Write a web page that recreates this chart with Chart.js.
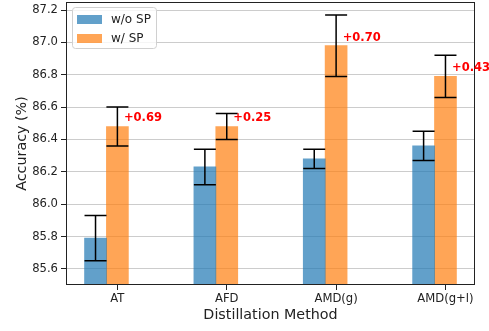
<!DOCTYPE html>
<html>
<head>
<meta charset="utf-8">
<script src="https://cdn.jsdelivr.net/npm/chart.js@4"></script>
<style>
  html, body { margin: 0; padding: 0; background: #fff; }
</style>
</head>
<body>
<canvas id="chart" width="489" height="331"></canvas>
<script>
// data
const methods = ['AT', 'AFD', 'AMD(g)', 'AMD(g+l)'];
const withoutSP = [85.79, 86.23, 86.28, 86.36];
const withoutSPErr = [0.14, 0.11, 0.06, 0.09];
const withSP = [86.48, 86.48, 86.98, 86.79];
const withSPErr = [0.12, 0.08, 0.19, 0.13];
const gains = ['+0.69', '+0.25', '+0.70', '+0.43'];
const yTicks = [85.6, 85.8, 86.0, 86.2, 86.4, 86.6, 86.8, 87.0, 87.2];

const FONT = 'DejaVu Sans';
const barW = 0.2; // bar width in x units

// error bars
const errorBars = {
    id: 'errorBars',
    afterDatasetsDraw(chart) {
        const ctx = chart.ctx;
        const y = chart.scales.y;
        ctx.save();
        ctx.strokeStyle = '#000';
        ctx.lineWidth = 1.5;
        chart.data.datasets.forEach((ds, di) => {
            const meta = chart.getDatasetMeta(di);
            meta.data.forEach((bar, i) => {
                const v = ds.data[i].y;
                const e = ds.errors[i];
                const top = y.getPixelForValue(v + e);
                const bot = y.getPixelForValue(v - e);
                const cap = 11;
                ctx.beginPath();
                ctx.moveTo(bar.x, top); ctx.lineTo(bar.x, bot);
                ctx.moveTo(bar.x - cap, top); ctx.lineTo(bar.x + cap, top);
                ctx.moveTo(bar.x - cap, bot); ctx.lineTo(bar.x + cap, bot);
                ctx.stroke();
            });
        });
        ctx.restore();
    }
};

// red gain labels, frame, legend
const extras = {
    id: 'extras',
    afterDraw(chart) {
        const ctx = chart.ctx;
        const {left, top, right, bottom} = chart.chartArea;
        const x = chart.scales.x, y = chart.scales.y;
        ctx.save();

        // frame
        ctx.strokeStyle = '#222';
        ctx.lineWidth = 1;
        ctx.strokeRect(Math.round(left) + 0.5, Math.round(top) + 0.5,
            Math.round(right - left) - 1, Math.round(bottom - top) - 1);

        // gains
        ctx.fillStyle = '#ff0000';
        ctx.font = 'bold 11.5px "' + FONT + '"';
        ctx.textAlign = 'left';
        ctx.textBaseline = 'middle';
        gains.forEach((g, i) => {
            ctx.fillText(g, x.getPixelForValue(i + 0.06), y.getPixelForValue(withSP[i] + 0.05));
        });

        // legend
        const lx = left + 6, ly = top + 5;
        ctx.fillStyle = 'rgba(255,255,255,0.8)';
        ctx.strokeStyle = '#d0d0d0';
        ctx.beginPath();
        ctx.roundRect(lx + 0.5, ly + 0.5, 84, 41, 3);
        ctx.fill();
        ctx.stroke();
        ctx.font = '12px "' + FONT + '"';
        ctx.textBaseline = 'middle';
        chart.data.datasets.forEach((ds, i) => {
            const cy = ly + 13 + i * 19;
            ctx.fillStyle = ds.backgroundColor;
            ctx.fillRect(lx + 5, cy - 5, 25, 9);
            ctx.fillStyle = '#222';
            ctx.fillText(ds.label, lx + 39, cy);
        });
        ctx.restore();
    }
};

new Chart(document.getElementById('chart'), {
    type: 'bar',
    data: {
        datasets: [
            {
                label: 'w/o SP',
                data: withoutSP.map((v, i) => ({x: i - barW, y: v})),
                errors: withoutSPErr,
                backgroundColor: 'rgba(31, 119, 180, 0.7)',
                grouped: false,
                barThickness: 22
            },
            {
                label: 'w/ SP',
                data: withSP.map((v, i) => ({x: i, y: v})),
                errors: withSPErr,
                backgroundColor: 'rgba(255, 127, 14, 0.7)',
                grouped: false,
                barThickness: 22
            }
        ]
    },
    options: {
        responsive: false,
        animation: false,
        layout: { padding: { left: 0, right: 14, top: 2, bottom: 0 } },
        plugins: {
            legend: { display: false },
            tooltip: { enabled: false }
        },
        scales: {
            x: {
                type: 'linear',
                min: -0.47,
                max: 3.27,
                offset: false,
                afterBuildTicks: s => { s.ticks = methods.map((m, i) => ({value: i})); },
                afterFit: s => { s.height = 46; s.paddingLeft = 0; s.paddingRight = 0; },
                border: { display: false },
                grid: { offset: false, drawOnChartArea: false, tickLength: 5, tickColor: '#222' },
                ticks: {
                    callback: v => methods[v],
                    font: { family: FONT, size: 11.6 },
                    color: '#222',
                    padding: 2,
                    maxRotation: 0
                },
                title: {
                    display: true,
                    text: 'Distillation Method',
                    font: { family: FONT, size: 14.3 },
                    color: '#222',
                    padding: { top: 0, bottom: 7 }
                }
            },
            y: {
                min: 85.5,
                max: 87.25,
                afterBuildTicks: s => { s.ticks = yTicks.map(v => ({value: v})); },
                afterFit: s => { s.width = 66; s.paddingTop = 0; s.paddingBottom = 0; },
                border: { display: false },
                grid: { color: '#cccccc', lineWidth: 1, tickLength: 5, tickColor: '#222' },
                ticks: {
                    callback: v => v.toFixed(1),
                    font: { family: FONT, size: 11.6 },
                    color: '#222',
                    padding: 3
                },
                title: {
                    display: true,
                    text: 'Accuracy (%)',
                    font: { family: FONT, size: 14.3 },
                    color: '#222',
                    padding: { top: 13.5, bottom: 0 }
                }
            }
        }
    },
    plugins: [errorBars, extras]
});
</script>
</body>
</html>
